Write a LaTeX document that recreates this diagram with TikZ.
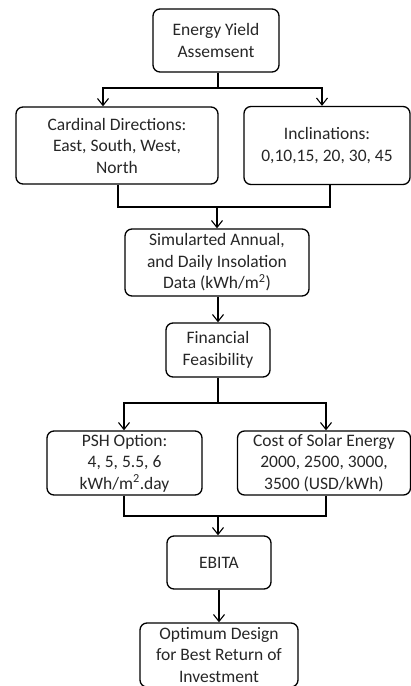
\documentclass[tikz,border=0pt]{standalone}
\usepackage{fontspec}
\setmainfont{Carlito}
\usetikzlibrary{arrows.meta}
\begin{document}
\begin{tikzpicture}[x=1pt,y=-1pt,
  box/.style={draw, line width=1.3pt, rounded corners=7pt, align=center, inner sep=0pt,
    font=\fontsize{17.5}{21.5}\selectfont, text=black!85},
  conn/.style={line width=1.3pt},
  arr/.style={conn, -{Straight Barb[length=7pt,width=11pt,line width=1.1pt]}}]
\useasboundingbox (0,0) rectangle (411,686);
\node[box, minimum width=126pt, minimum height=63pt] (b1) at (216,40.5) {Energy Yield\\Assemsent};
\node[box, minimum width=202pt, minimum height=77pt] (b2) at (117,145.5) {Cardinal Directions:\\East, South, West,\\North};
\node[box, minimum width=166pt, minimum height=78pt] (b3) at (327,145.5) {Inclinations:\\0,10,15, 20, 30, 45};
\node[box, minimum width=184pt, minimum height=67pt] (b4) at (217,262.5) {Simularted Annual,\\and Daily Insolation\\Data (kWh/m\textsuperscript{2})};
\node[box, minimum width=104pt, minimum height=54pt] (b5) at (218,350) {Financial\\Feasibility};
\node[box, minimum width=155pt, minimum height=64pt] (b6) at (124.5,463) {PSH Option:\\4, 5, 5.5, 6\\kWh/m\textsuperscript{2}.day};
\node[box, minimum width=173pt, minimum height=64pt] (b7) at (324,463) {Cost of Solar Energy\\2000, 2500, 3000,\\3500 (USD/kWh)};
\node[box, minimum width=104pt, minimum height=53pt] (b8) at (219,562.5) {EBITA};
\node[box, minimum width=158pt, minimum height=64pt] (b9) at (219,655) {Optimum Design\\for Best Return of\\Investment};
% connectors
\coordinate (j1) at (218,88);
\draw[conn] ([xshift=2pt]b1.south) -- (j1);
\draw[arr] (j1) -| ([xshift=-14pt]b2.north);
\draw[arr] (j1) -| ([xshift=-5pt]b3.north);
\coordinate (j2) at (217,207);
\draw[conn] ([xshift=1pt]b2.south) |- (j2);
\draw[conn] ([xshift=3pt]b3.south) |- (j2);
\draw[arr] (j2) -- (b4.north);
\draw[arr] ([xshift=1pt]b4.south) -- (b5.north);
\coordinate (j3) at (218,403);
\draw[conn] (b5.south) -- (j3);
\draw[arr] (j3) -| ([xshift=-0.5pt]b6.north);
\draw[arr] (j3) -| ([xshift=2pt]b7.north);
\coordinate (j4) at (218,516);
\draw[conn] ([xshift=-0.5pt]b6.south) |- (j4);
\draw[conn] ([xshift=2pt]b7.south) |- (j4);
\draw[arr] (j4) -- ([xshift=-1pt]b8.north);
\draw[arr] (b8.south) -- (b9.north);
\end{tikzpicture}
\end{document}
